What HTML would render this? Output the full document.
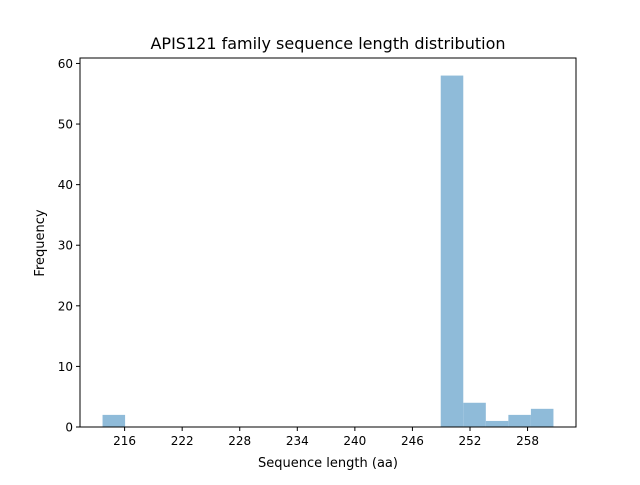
<!DOCTYPE html>
<html><head><meta charset="utf-8"><style>
body{margin:0;background:#fff;font-family:"Liberation Sans","DejaVu Sans",sans-serif}
</style></head><body>
<svg id="chart" width="640" height="480" xmlns="http://www.w3.org/2000/svg" font-family="DejaVu Sans, Liberation Sans, sans-serif">
<rect width="640" height="480" fill="#fff"/>
<text x="328" y="49" text-anchor="middle" font-size="16">APIS121 family sequence length distribution</text>
<g id="bars"></g>
<rect x="80" y="58" width="496" height="369" fill="none" stroke="#000" stroke-width="1"/>
<g id="xticks"></g><g id="yticks"></g>
<text x="328" y="467" text-anchor="middle" font-size="13">Sequence length (aa)</text>
<text transform="translate(44,243) rotate(-90)" text-anchor="middle" font-size="13">Frequency</text>
</svg>
<script>
const binStart = 213.7;
const binEnd = 260.7;
const counts = [2,0,0,0,0,0,0,0,0,0,0,0,0,0,0,58,4,1,2,3];
const xTickLabels = [216,222,228,234,240,246,252,258];
const yTickLabels = [0,10,20,30,40,50,60];

const L=80,R=576,T=58,B=427;
const maxC=Math.max(...counts);
const xMin=binStart-(binEnd-binStart)*0.05, xMax=binEnd+(binEnd-binStart)*0.05;
const yMax=maxC*1.05;
const sx=v=>L+(v-xMin)/(xMax-xMin)*(R-L);
const sy=v=>B-v/yMax*(B-T);
const NS="http://www.w3.org/2000/svg";
const bw=(binEnd-binStart)/counts.length;
const bars=document.getElementById('bars');
counts.forEach((c,i)=>{
  if(c<=0)return;
  const r=document.createElementNS(NS,'rect');
  const x0=sx(binStart+i*bw),x1=sx(binStart+(i+1)*bw);
  r.setAttribute('x',x0);r.setAttribute('width',x1-x0);
  r.setAttribute('y',sy(c));r.setAttribute('height',B-sy(c));
  r.setAttribute('fill','#8fbbd9');
  
  
  bars.appendChild(r);
});
const xt=document.getElementById('xticks');
xTickLabels.forEach(v=>{
  const x=sx(v);
  const l=document.createElementNS(NS,'line');
  l.setAttribute('x1',x);l.setAttribute('x2',x);l.setAttribute('y1',B);l.setAttribute('y2',B+4);l.setAttribute('stroke','#000');
  
  
  xt.appendChild(l);
  const t=document.createElementNS(NS,'text');
  t.setAttribute('x',x);t.setAttribute('y',B+18);t.setAttribute('text-anchor','middle');t.setAttribute('font-size','12');
  t.textContent=v;
  
  
  xt.appendChild(t);
});
const yt=document.getElementById('yticks');
yTickLabels.forEach(v=>{
  const y=sy(v);
  const l=document.createElementNS(NS,'line');
  l.setAttribute('x1',L-4);l.setAttribute('x2',L);l.setAttribute('y1',y);l.setAttribute('y2',y);l.setAttribute('stroke','#000');
  
  
  yt.appendChild(l);
  const t=document.createElementNS(NS,'text');
  t.setAttribute('x',L-7);t.setAttribute('y',y+4.5);t.setAttribute('text-anchor','end');t.setAttribute('font-size','12');
  t.textContent=v;
  
  
  yt.appendChild(t);
});
</script>
</body></html>
